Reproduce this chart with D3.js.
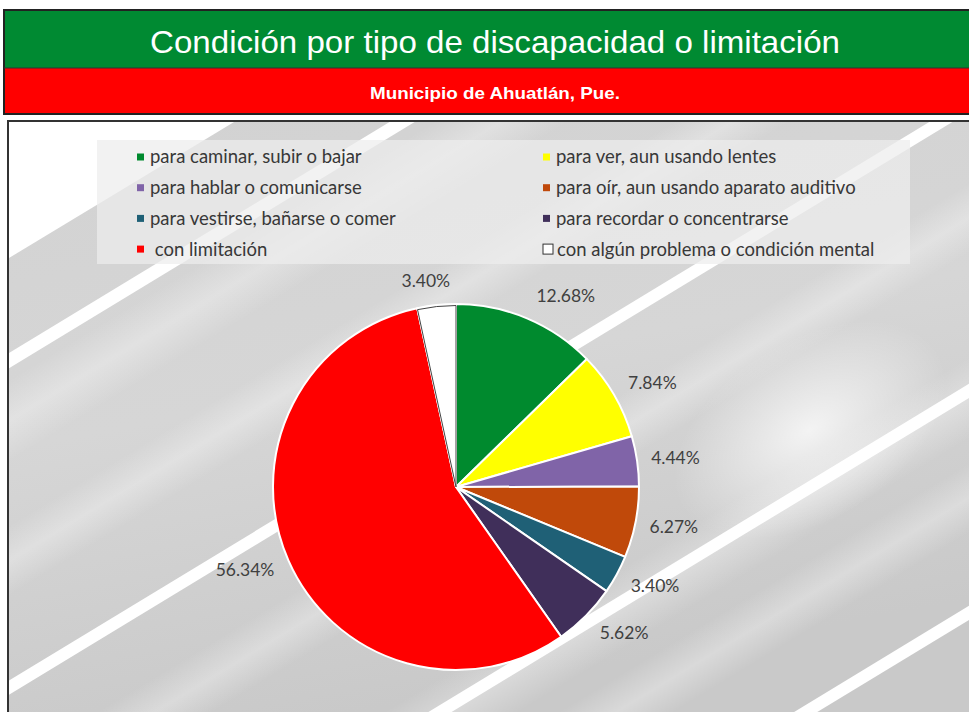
<!DOCTYPE html>
<html>
<head>
<meta charset="utf-8">
<script src="https://cdn.jsdelivr.net/npm/d3@7"></script>
<style>
  html, body { margin: 0; padding: 0; background: #fff; overflow: hidden; }
</style>
</head>
<body>
<svg id="chart"></svg>
<script>
const title = 'Condición por tipo de discapacidad o limitación'
const subtitle = 'Municipio de Ahuatlán, Pue.'

const categories = [
    'para caminar, subir o bajar',
    'para ver, aun usando lentes',
    'para hablar o comunicarse',
    'para oír, aun usando aparato auditivo',
    'para vestirse, bañarse o comer',
    'para recordar o concentrarse',
    ' con limitación',
    'con algún problema o condición mental'
]
const values = [12.68, 7.84, 4.44, 6.27, 3.40, 5.62, 56.34, 3.40]
const colors = ['#008a2e', '#ffff00', '#8064a8', '#c0490a', '#1f6076', '#402f5a', '#ff0000', '#ffffff']

const width = 969
const height = 712

//set up svg container
const svg = d3.select('#chart')
    .attr('width', width)
    .attr('height', height)
    .style('font-family', 'Lato, sans-serif')

// header bands
svg.append('rect')
    .attr('x', 4).attr('y', 10).attr('width', 1000).attr('height', 58)
    .attr('fill', '#008a32')
svg.append('rect')
    .attr('x', 4).attr('y', 68).attr('width', 1000).attr('height', 46)
    .attr('fill', '#ff0000')
svg.append('rect')
    .attr('x', 4).attr('y', 10).attr('width', 1000).attr('height', 104)
    .attr('fill', 'none').attr('stroke', '#222').attr('stroke-width', 2)
svg.append('line')
    .attr('x1', 4).attr('x2', 969).attr('y1', 68).attr('y2', 68)
    .attr('stroke', '#333').attr('stroke-width', 1)

svg.append('text')
    .attr('x', 495).attr('y', 53)
    .attr('text-anchor', 'middle')
    .attr('textLength', 690)
    .attr('lengthAdjust', 'spacingAndGlyphs')
    .style('font-family', '"Liberation Sans", Arial, sans-serif')
    .style('font-size', '32px')
    .attr('fill', '#fff')
    .text(title)
svg.append('text')
    .attr('x', 495).attr('y', 99)
    .attr('text-anchor', 'middle')
    .attr('textLength', 250)
    .attr('lengthAdjust', 'spacingAndGlyphs')
    .style('font-family', '"Liberation Sans", Arial, sans-serif')
    .style('font-size', '17px')
    .style('font-weight', 'bold')
    .attr('fill', '#fff')
    .text(subtitle)


// chart area background: gray gradient with white diagonal stripes
const area = { x: 9, y: 122, w: 980, h: 600 }
const defs = svg.append('defs')
defs.append('clipPath').attr('id', 'areaClip')
    .append('rect').attr('x', area.x).attr('y', area.y).attr('width', area.w).attr('height', area.h)

const lg = defs.append('linearGradient').attr('id', 'bgGrad')
    .attr('x1', '0').attr('y1', '0').attr('x2', '0.3').attr('y2', '1')
lg.append('stop').attr('offset', '0').attr('stop-color', '#d2d2d2')
lg.append('stop').attr('offset', '0.5').attr('stop-color', '#d6d6d6')
lg.append('stop').attr('offset', '1').attr('stop-color', '#c9c9c9')

const rg = defs.append('radialGradient').attr('id', 'glow')
rg.append('stop').attr('offset', '0').attr('stop-color', '#fff').attr('stop-opacity', 0.75)
rg.append('stop').attr('offset', '1').attr('stop-color', '#fff').attr('stop-opacity', 0)

const bandGrad = defs.append('linearGradient').attr('id', 'band')
    .attr('x1', '0').attr('y1', '0').attr('x2', '0').attr('y2', '1')
bandGrad.append('stop').attr('offset', '0').attr('stop-color', '#fff').attr('stop-opacity', 0)
bandGrad.append('stop').attr('offset', '0.5').attr('stop-color', '#fff').attr('stop-opacity', 0.3)
bandGrad.append('stop').attr('offset', '1').attr('stop-color', '#fff').attr('stop-opacity', 0)

const bg = svg.append('g').attr('clip-path', 'url(#areaClip)')
bg.append('rect')
    .attr('x', area.x).attr('y', area.y).attr('width', area.w).attr('height', area.h)
    .attr('fill', 'url(#bgGrad)')

const slope = -0.607
const angle = Math.atan(slope) * 180 / Math.PI
// soft light bands (y where the band crosses x = 10, thickness)
const softBands = [[420, 70], [560, 60], [800, 60], [980, 70], [1080, 60]]
softBands.forEach(([y0, t]) => {
    bg.append('rect')
        .attr('x', -200).attr('y', -t / 2).attr('width', 1600).attr('height', t)
        .attr('fill', 'url(#band)')
        .attr('transform', `translate(10,${y0}) rotate(${angle})`)
})
bg.append('ellipse')
    .attr('cx', 810).attr('cy', 430).attr('rx', 150).attr('ry', 90)
    .attr('transform', `rotate(${angle},810,430)`)
    .attr('fill', 'url(#glow)')

// white top-left corner
bg.append('path')
    .attr('d', `M9,122 L${10 + (258 - 122) / -slope},122 L9,258 Z`)
    .attr('fill', '#fff')

// white stripes (y where each stripe crosses x = 10, thickness)
const stripes = [[360, 13], [687, 12], [973, 12], [1195, 12]]
stripes.forEach(([y0, t]) => {
    bg.append('rect')
        .attr('x', -200).attr('y', -t / 2).attr('width', 1600).attr('height', t)
        .attr('fill', '#fff')
        .attr('transform', `translate(10,${y0}) rotate(${angle})`)
})

svg.append('rect')
    .attr('x', 8).attr('y', 121).attr('width', 1000).attr('height', 700)
    .attr('fill', 'none').attr('stroke', '#333').attr('stroke-width', 2)


// legend
const legend = svg.append('g')
legend.append('rect')
    .attr('x', 97).attr('y', 140).attr('width', 813).attr('height', 124)
    .attr('fill', '#ededed').attr('opacity', 0.73)

const legendItems = legend.selectAll('g.item')
    .data(categories)
    .join('g')
    .attr('class', 'item')
    .attr('transform', (d, i) => `translate(${i % 2 === 0 ? 137 : 543},${157 + Math.floor(i / 2) * 30.7})`)

legendItems.append('rect')
    .attr('y', (d, i) => i === 7 ? -5 : -3.5)
    .attr('width', (d, i) => i === 7 ? 10 : 7)
    .attr('height', (d, i) => i === 7 ? 10 : 7)
    .attr('fill', (d, i) => colors[i])
    .attr('stroke', (d, i) => i === 7 ? '#333' : 'none')
    .attr('stroke-width', 1)

legendItems.append('text')
    .attr('x', (d, i) => i === 7 ? 14 : 13)
    .attr('dy', '0.35em')
    .style('font-size', '18.5px')
    .style('white-space', 'pre')
    .attr('fill', '#383838')
    .text(d => d)


// set up chart
const cx = 456
const cy = 487
const radius = 183

const pie = d3.pie().sort(null).value(d => d)
const arcs = pie(values)
const arcGenerator = d3.arc().innerRadius(0).outerRadius(radius)

const pieGroup = svg.append('g').attr('transform', `translate(${cx},${cy})`)
pieGroup.selectAll('path')
    .data(arcs)
    .join('path')
    .attr('d', arcGenerator)
    .attr('fill', (d, i) => colors[i])
    .attr('stroke', '#fff')
    .attr('stroke-width', 2)
    .attr('stroke-linejoin', 'round')

// dark edge around the white slice
pieGroup.append('path')
    .datum(arcs[7])
    .attr('d', d3.arc().innerRadius(0).outerRadius(radius - 1.5))
    .attr('fill', 'none')
    .attr('stroke', '#444')
    .attr('stroke-width', 1)


// set up annotation (outside end, like the spreadsheet does it)
const fmt = d3.format('.2f')
const labels = pieGroup.selectAll('text')
    .data(arcs)
    .join('text')
    .attr('text-anchor', 'middle')
    .attr('dy', '0.35em')
    .style('font-size', '17.5px')
    .attr('fill', '#404040')
    .text(d => fmt(d.data) + '%')

labels.each(function (d) {
    const a = (d.startAngle + d.endAngle) / 2
    const w = this.getComputedTextLength()
    const maxDx = w / 2 + 14
    const dx = Math.max(-maxDx, Math.min(maxDx, Math.sin(a) * 100))
    const x = Math.sin(a) * radius + dx
    const y = -Math.cos(a) * radius - Math.cos(a) * 24
    d3.select(this).attr('x', x).attr('y', y)
})
</script>
</body>
</html>
